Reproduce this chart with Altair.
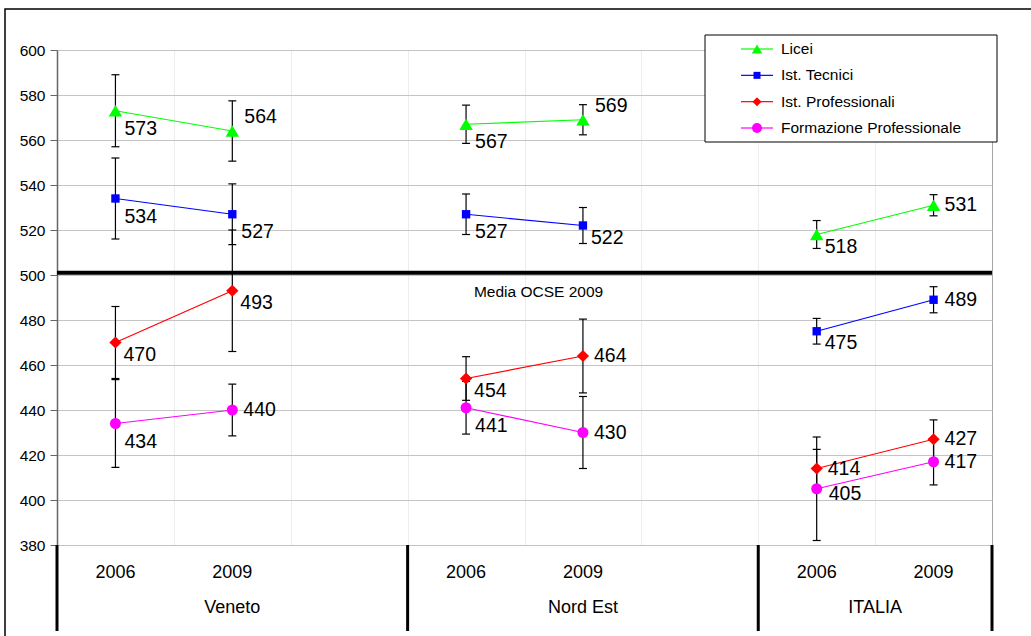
import altair as alt
import pandas as pd

# ---------------- data ----------------
REGIONS = ["Veneto", "Nord Est", "ITALIA"]
YEARS = ["2006", "2009"]
SERIES = ["Licei", "Ist. Tecnici", "Ist. Professionali", "Formazione Professionale"]

# values in order: Veneto 2006, Veneto 2009, Nord Est 2006, Nord Est 2009, ITALIA 2006, ITALIA 2009
LICEI = [573, 564, 567, 569, 518, 531]
TECNICI = [534, 527, 527, 522, 475, 489]
PROFESSIONALI = [470, 493, 454, 464, 414, 427]
FORMAZIONE = [434, 440, 441, 430, 405, 417]

# half-width of the error bars
ERR_LICEI = [16, 13.4, 8.5, 6.7, 6.2, 4.7]
ERR_TECNICI = [18, 13.5, 9, 8, 5.7, 5.8]
ERR_PROF = [16, 27, 9.7, 16.4, 8.5, 8.6]
ERR_FORM = [19.5, 11.5, 11.7, 16, 23, 10.3]

OCSE_MEDIA = 501
OCSE_LABEL = "Media OCSE 2009"
Y_TICKS = list(range(380, 601, 20))

# ---------------- styling / layout ----------------
COLORS = ["#00FF00", "#0000FF", "#FF0000", "#FF00FF"]
SHAPES = ["triangle-up", "square", "diamond", "circle"]
SIZES = [180, 70, 150, 121]
LEGEND_SIZES = [110, 49, 81, 100]

# label placement per point (b = below, br = below-close, r = right, rb = right-low, a = above)
LABEL_PLACE = {
    "Licei": ["b", "a", "b", "a", "br", "r"],
    "Ist. Tecnici": ["b", "b", "b", "br", "br", "r"],
    "Ist. Professionali": ["br", "br", "br", "r", "r", "r"],
    "Formazione Professionale": ["b", "r", "b", "r", "rb", "r"],
}
PLACE_OFFSETS = {"b": (9, 18), "br": (8, 12), "r": (11, 0), "rb": (12, 5), "a": (12, -14)}

W, H = 935, 495
FONT = "Liberation Sans"

# legend box geometry (pixels, relative to the plot area)
LEG_X0, LEG_X1, LEG_Y0, LEG_Y1 = 648, 940, -15, 92
LEG_ROW0, LEG_ROW1 = -1, 78
LEG_SYM_X, LEG_LINE_HALF, LEG_TEXT_X = 700, 16, 724

values = [LICEI, TECNICI, PROFESSIONALI, FORMAZIONE]
errs = [ERR_LICEI, ERR_TECNICI, ERR_PROF, ERR_FORM]

rows = []
for s, name in enumerate(SERIES):
    k = 0
    for ri, reg in enumerate(REGIONS):
        for yi, yr in enumerate(YEARS):
            v = values[s][k]
            e = errs[s][k]
            rows.append({
                "series": name, "region": reg, "year": yr,
                "pos": ri * 3 + yi + 0.5,
                "value": v, "lo": v - e, "hi": v + e,
                "label": str(v), "place": LABEL_PLACE[name][k],
            })
            k += 1
df = pd.DataFrame(rows)

n_cat = len(REGIONS) * 3 - 1
year_df = pd.DataFrame([
    {"pos": ri * 3 + yi + 0.5, "text": yr}
    for ri in range(len(REGIONS)) for yi, yr in enumerate(YEARS)
])
region_df = pd.DataFrame([
    {"pos": (ri * 3 + min(ri * 3 + 3, n_cat)) / 2, "text": reg}
    for ri, reg in enumerate(REGIONS)
])
sep_df = pd.DataFrame({"pos": [ri * 3 for ri in range(len(REGIONS))] + [n_cat]})
ocse_df = pd.DataFrame({"y": [OCSE_MEDIA], "text": [OCSE_LABEL], "pos": [4.12]})
leg_df = pd.DataFrame({"series": SERIES, "idx": list(range(len(SERIES)))})

xscale = alt.Scale(domain=[0, n_cat], nice=False, zero=False)
yscale = alt.Scale(domain=[380, 600], nice=False, zero=False)
xaxis = alt.Axis(values=list(range(1, n_cat)), grid=True, gridColor="#EDEDED",
                 labels=False, ticks=False, domain=False, title=None)
yaxis = alt.Axis(values=Y_TICKS, grid=True, gridColor="#C4C4C4", title=None,
                 labelFontSize=15.5, labelColor="black", labelFont=FONT,
                 domainColor="#666666", domainWidth=1.5, tickColor="#666666",
                 tickSize=7, labelPadding=5)
color_scale = alt.Scale(domain=SERIES, range=COLORS)


def X(field="pos:Q"):
    return alt.X(field, scale=xscale, axis=xaxis)


def Y(field):
    return alt.Y(field, scale=yscale, axis=yaxis)


base = alt.Chart(df)

err_rule = base.mark_rule(color="black", strokeWidth=1.2).encode(
    x=X(), y=Y("lo:Q"), y2="hi:Q")
cap_lo = base.mark_point(shape="stroke", size=64, color="black", strokeWidth=1.2,
                         opacity=1).encode(x=X(), y=Y("lo:Q"))
cap_hi = base.mark_point(shape="stroke", size=64, color="black", strokeWidth=1.2,
                         opacity=1).encode(x=X(), y=Y("hi:Q"))

lines = base.mark_line(strokeWidth=1.2).encode(
    x=X(), y=Y("value:Q"),
    color=alt.Color("series:N", scale=color_scale, legend=None),
    detail="region:N",
)

point_layers = []
for name, col, shp, sz in zip(SERIES, COLORS, SHAPES, SIZES):
    point_layers.append(
        base.transform_filter(alt.datum.series == name)
        .mark_point(shape=shp, filled=True, color=col, size=sz, opacity=1)
        .encode(x=X(), y=Y("value:Q"))
    )

label_layers = []
for place, (dx, dy) in PLACE_OFFSETS.items():
    label_layers.append(
        base.transform_filter(alt.datum.place == place)
        .mark_text(align="left", baseline="middle", dx=dx, dy=dy,
                   fontSize=19.5, font=FONT, color="black")
        .encode(x=X(), y=Y("value:Q"), text="label:N")
    )

ocse_rule = alt.Chart(ocse_df).mark_rule(color="black", strokeWidth=4).encode(y=Y("y:Q"))
ocse_text = alt.Chart(ocse_df).mark_text(fontSize=15.5, font=FONT, color="black",
                                         align="center", baseline="middle", dy=19).encode(
    x=X(), y=Y("y:Q"), text="text:N")

year_text = alt.Chart(year_df).mark_text(fontSize=18, font=FONT, color="black",
                                         align="center", baseline="middle").encode(
    x=X(), y=alt.value(H + 28), text="text:N")
region_text = alt.Chart(region_df).mark_text(fontSize=18, font=FONT, color="black",
                                             align="center", baseline="middle").encode(
    x=X(), y=alt.value(H + 63), text="text:N")
separators = alt.Chart(sep_df).mark_rule(color="black", strokeWidth=3).encode(
    x=X(), y=alt.value(H), y2=alt.value(H + 86))

frame = alt.Chart(pd.DataFrame({"k": [0]})).mark_rect(
    fillOpacity=0, stroke="black", strokeWidth=1.5).encode(
    x=alt.value(-52), x2=alt.value(W + 60), y=alt.value(-41), y2=alt.value(H + 120))

main = alt.layer(
    frame, err_rule, cap_lo, cap_hi, lines, *point_layers, *label_layers,
    ocse_rule, ocse_text, year_text, region_text, separators,
)

# ---------------- legend (drawn with marks) ----------------
leg_y = alt.Y("idx:Q", scale=alt.Scale(domain=[0, len(SERIES) - 1], range=[LEG_ROW0, LEG_ROW1],
                                       nice=False, zero=False), axis=None)
leg_base = alt.Chart(leg_df)
leg_box = alt.Chart(pd.DataFrame({"k": [0]})).mark_rect(
    fill="white", stroke="black", strokeWidth=1).encode(
    x=alt.value(LEG_X0), x2=alt.value(LEG_X1), y=alt.value(LEG_Y0), y2=alt.value(LEG_Y1))
leg_lines = leg_base.mark_rule(strokeWidth=1.2).encode(
    x=alt.value(LEG_SYM_X - LEG_LINE_HALF), x2=alt.value(LEG_SYM_X + LEG_LINE_HALF),
    y=leg_y, color=alt.Color("series:N", scale=color_scale, legend=None))
leg_syms = []
for name, col, shp, sz in zip(SERIES, COLORS, SHAPES, LEGEND_SIZES):
    leg_syms.append(
        leg_base.transform_filter(alt.datum.series == name)
        .mark_point(shape=shp, filled=True, color=col, size=sz, opacity=1)
        .encode(x=alt.value(LEG_SYM_X), y=leg_y)
    )
leg_text = leg_base.mark_text(align="left", baseline="middle", fontSize=15.5, font=FONT,
                              color="black").encode(
    x=alt.value(LEG_TEXT_X), y=leg_y, text="series:N")
legend = alt.layer(leg_box, leg_lines, *leg_syms, leg_text)

chart = alt.layer(main, legend).resolve_scale(y="independent").properties(
    width=W, height=H, autosize="none",
    padding={"left": 57, "top": 50, "right": 39, "bottom": 91},
    background="white",
).configure(font=FONT).configure_view(stroke="#A6A6A6")

chart.save("out.html", embed_options={"renderer": "svg", "actions": False})
